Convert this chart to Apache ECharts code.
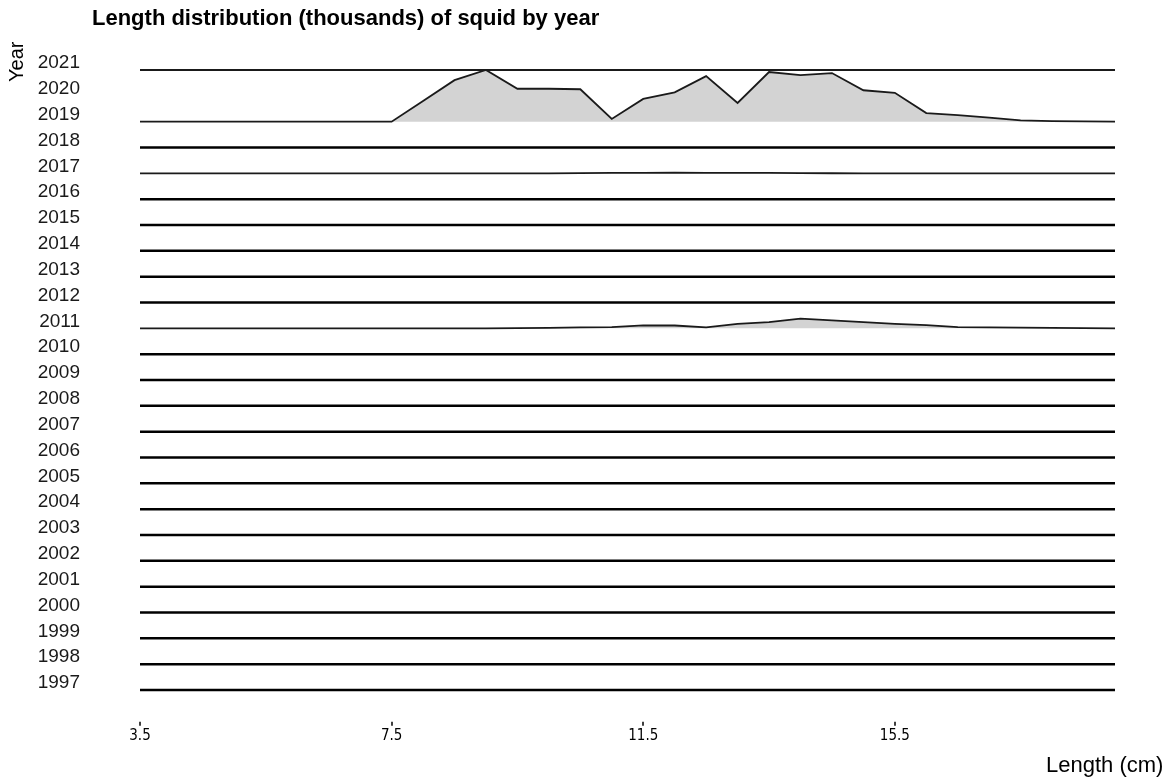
<!DOCTYPE html>
<html>
<head>
<meta charset="utf-8">
<script src="https://cdn.jsdelivr.net/npm/echarts@6/dist/echarts.min.js"></script>
<style>
html,body{margin:0;padding:0;background:#fff;}
#chart{width:1173px;height:784px;}
</style>
</head>
<body>
<div id="chart"></div>
<script>
// ---- data ----
const years = [1997,1998,1999,2000,2001,2002,2003,2004,2005,2006,2007,2008,2009,2010,2011,2012,2013,2014,2015,2016,2017,2018,2019,2020,2021];
const lengths = [3.5,4,4.5,5,5.5,6,6.5,7,7.5,8,8.5,9,9.5,10,10.5,11,11.5,12,12.5,13,13.5,14,14.5,15,15.5,16,16.5,17,17.5,18,18.5,19];
const xTicks = [3.5, 7.5, 11.5, 15.5];
// thousands of squid per length class
const ld2019 = [0,0,0,0,0,0,0,0,0,2.05,4.1,5.1,3.25,3.25,3.2,0.27,2.25,2.9,4.5,1.85,4.9,4.6,4.8,3.1,2.85,0.85,0.65,0.4,0.12,0.05,0.02,0];
const ld2017 = [0,0,0,0,0,0,0,0,0,0,0,0,0,0,0.02,0.04,0.05,0.06,0.05,0.04,0.05,0.03,0.01,0,0,0,0,0,0,0,0,0];
const ld2011 = [0,0,0,0,0,0,0,0,0,0,0,0,0.02,0.05,0.1,0.12,0.3,0.28,0.1,0.45,0.62,0.95,0.78,0.62,0.45,0.32,0.12,0.1,0.07,0.04,0.02,0];
const ldZero = [0,0,0,0,0,0,0,0,0,0,0,0,0,0,0,0,0,0,0,0,0,0,0,0,0,0,0,0,0,0,0,0];
const ldByYear = {2011: ld2011, 2017: ld2017, 2019: ld2019, 2021: ldZero};
const missingYears = [2020];

// ---- layout / style ----
const ridgeScale = 2 / 5.1;
const thinYears = [2011, 2017, 2019, 2021];
const FONT = "'Liberation Sans', Arial, sans-serif";

const rows = years.map(y => missingYears.indexOf(y) >= 0 ? null : (ldByYear[y] || ldZero));
const order = years.map((y, i) => i).reverse();

const chart = echarts.init(document.getElementById('chart'));
chart.setOption({
  backgroundColor: '#fff',
  animation: false,
  title: {
    text: 'Length distribution (thousands) of squid by year',
    left: 92, top: 8, padding: 0,
    textStyle: {fontFamily: FONT, fontSize: 22, fontWeight: 'bold', color: '#000'}
  },
  grid: {left: 140, right: 58, top: 44.17, bottom: 68.17, containLabel: false},
  xAxis: {
    type: 'value', min: 3.5, max: 19, offset: 6,
    axisLine: {show: false, onZero: false},
    axisTick: {show: true, customValues: xTicks, length: 4, lineStyle: {color: '#000', width: 1.5}},
    axisLabel: {customValues: xTicks, margin: 7, fontFamily: "'Liberation Sans Narrow', 'DejaVu Sans Condensed', sans-serif", fontSize: 15, color: '#000',
      formatter: v => v.toFixed(1)},
    splitLine: {show: false}
  },
  yAxis: {
    type: 'value', min: -1, max: 25, interval: 1,
    axisLine: {show: false}, axisTick: {show: false}, splitLine: {show: false},
    axisLabel: {
      margin: 60, fontFamily: FONT, fontSize: 19, color: '#1a1a1a', verticalAlign: 'bottom', lineHeight: 14,
      formatter: v => (v >= 0 && v < years.length) ? String(years[v]) : ''
    }
  },
  graphic: [
    {type: 'text', left: 1046, top: 755, style: {text: 'Length (cm)', fontFamily: FONT, fontSize: 22, fill: '#000'}},
    {type: 'text', x: 7, y: 82, rotation: Math.PI / 2, style: {text: 'Year', fontFamily: FONT, fontSize: 20, fill: '#000'}}
  ],
  series: [{
    type: 'custom',
    clip: false,
    data: order.map(i => [i]),
    encode: {y: 0},
    renderItem: function (params, api) {
      const i = api.value(0);
      const vals = rows[i];
      if (!vals) return null;
      const pts = lengths.map((L, k) => api.coord([L, i + vals[k] * ridgeScale]));
      const poly = pts.concat([api.coord([lengths[lengths.length - 1], i]), api.coord([lengths[0], i])]);
      const thin = thinYears.indexOf(years[i]) >= 0;
      return {
        type: 'group',
        children: [
          {type: 'polygon', shape: {points: poly}, style: {fill: '#d3d3d3', stroke: null}},
          {type: 'polyline', shape: {points: pts}, style: {fill: null, stroke: thin ? '#1a1a1a' : '#000', lineWidth: thin ? 1.8 : 2.5, lineJoin: 'miter'}}
        ]
      };
    }
  }]
});
</script>
</body>
</html>
